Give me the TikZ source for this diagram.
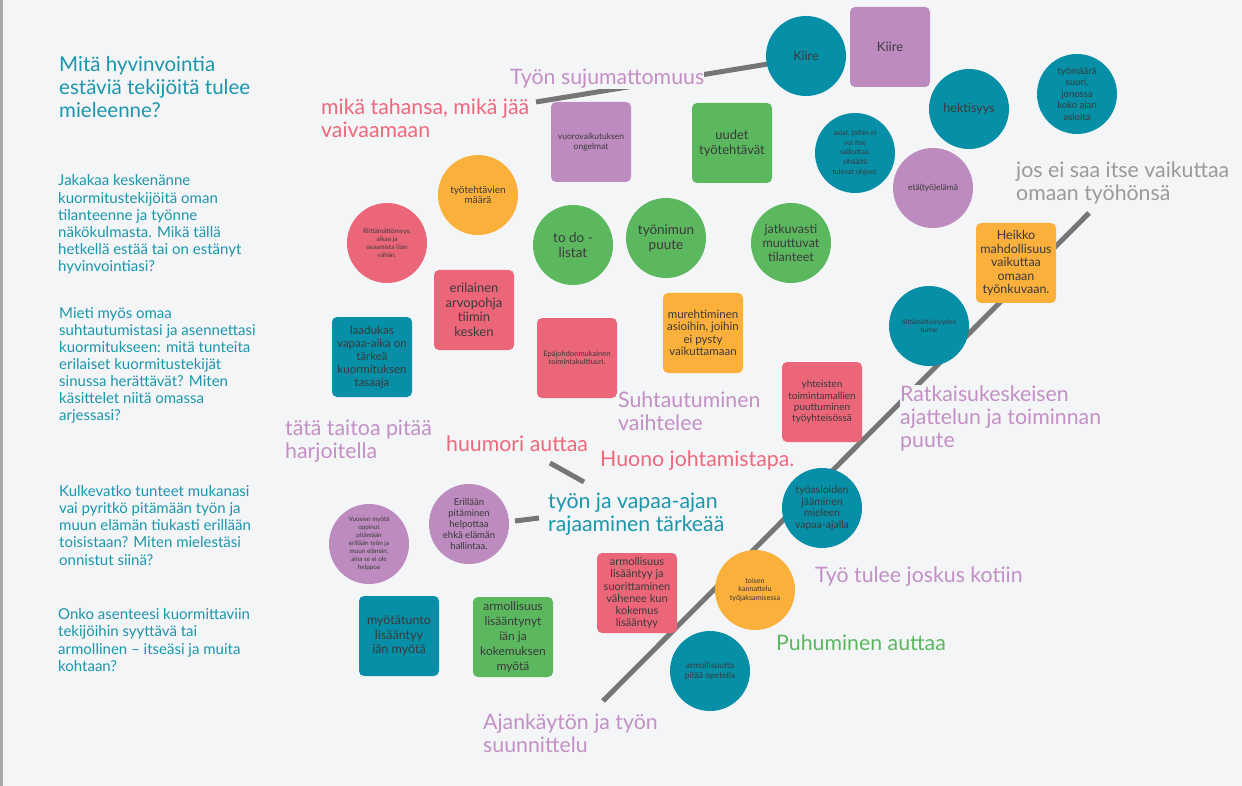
\documentclass[tikz,border=0pt]{standalone}
\usepackage{fontspec}
\setmainfont{Lato}
\definecolor{bg}{HTML}{F4F5F7}
\definecolor{teal}{HTML}{068FA7}
\definecolor{purp}{HTML}{BD8BBF}
\definecolor{grn}{HTML}{5CB85F}
\definecolor{redp}{HTML}{EC6679}
\definecolor{orng}{HTML}{FBB03B}
\definecolor{ink}{HTML}{3A3A3A}
\definecolor{qteal}{HTML}{1B96AC}
\definecolor{lpurp}{HTML}{C48FC6}
\definecolor{lpink}{HTML}{EE687C}
\definecolor{lgray}{HTML}{9A9A9A}
\definecolor{lgrn}{HTML}{5CB85F}
\definecolor{linegray}{HTML}{767676}
\definecolor{edge}{HTML}{A8A8A8}
\begin{document}
\begin{tikzpicture}[x=1pt,y=-1pt,
  fs/.style 2 args={font=\fontsize{#1}{#2}\selectfont},
  circ/.style={circle, minimum size=80pt, inner sep=-4pt, align=center, text=ink},
  sq/.style={rectangle, rounded corners=5pt, minimum size=80pt, inner sep=0pt, align=center, text=ink},
  lab/.style={anchor=base west, inner sep=0pt, fill=bg, fs={21.3}{23}},
  qtext/.style={anchor=base west, inner sep=0pt, text=qteal},
  bar/.style={line width=5pt, draw=linegray}]
\fill[bg] (0,0) rectangle (1242,786);
\useasboundingbox (0,0) rectangle (1242,786);
\fill[edge] (0,0) rectangle (2.5,786);

% connector bars
\coordinate (d1) at (603,701);
\coordinate (d2) at (1089,213);
\coordinate (s1) at (536,102);
\coordinate (s2) at (768,64);
\coordinate (h1) at (550,463);
\coordinate (h2) at (584,482);
\coordinate (r1) at (515,521);
\coordinate (r2) at (539,518);
\draw[bar] (d1) -- (d2);
\draw[bar] (s1) -- (s2);
\draw[bar] (h1) -- (h2);
\draw[bar] (r1) -- (r2);

% left column questions
\node[qtext, fs={20.5}{23}] (title) at (59,72) {\vtop{\hbox{Mitä hyvinvointia}\hbox{estäviä tekijöitä tulee}\hbox{mieleenne?}}};
\node[qtext, fs={15}{17.1}] (p1) at (58,186) {\vtop{\hbox{Jakakaa keskenänne}\hbox{kuormitustekijöitä oman}\hbox{tilanteenne ja työnne}\hbox{näkökulmasta. Mikä tällä}\hbox{hetkellä estää tai on estänyt}\hbox{hyvinvointiasi?}}};
\node[qtext, fs={15}{17.1}] (p2) at (59,318) {\vtop{\hbox{Mieti myös omaa}\hbox{suhtautumistasi ja asennettasi}\hbox{kuormitukseen: mitä tunteita}\hbox{erilaiset kuormitustekijät}\hbox{sinussa herättävät? Miten}\hbox{käsittelet niitä omassa}\hbox{arjessasi?}}};
\node[qtext, fs={15}{17.3}] (p3) at (59,496) {\vtop{\hbox{Kulkevatko tunteet mukanasi}\hbox{vai pyritkö pitämään työn ja}\hbox{muun elämän tiukasti erillään}\hbox{toisistaan? Miten mielestäsi}\hbox{onnistut siinä?}}};
\node[qtext, fs={15}{17.6}] (p4) at (58,619) {\vtop{\hbox{Onko asenteesi kuormittaviin}\hbox{tekijöihin syyttävä tai}\hbox{armollinen – itseäsi ja muita}\hbox{kohtaan?}}};

% sticky notes
\node[circ, fill=teal, fs={12.5}{14}] (c1) at (806,56) {Kiire};
\node[sq, fill=purp, fs={13}{15}] (n1) at (890,47) {Kiire};
\node[circ, fill=teal, fs={12.5}{14}] (c2) at (969,109) {hektisyys};
\node[circ, fill=teal, fs={9.5}{11.5}] (c3) at (1077,94) {työmäärä\\suuri,\\jonossa\\koko ajan\\asioita};
\node[circ, fill=teal, fs={7.2}{9.6}] (c4) at (855,153) {asiat, joihin ei\\voi itse\\vaikuttaa,\\ylhäältä\\tulevat ohjeet,};
\node[circ, fill=purp, fs={8.5}{10}] (c5) at (933,188) {etä(työ)elämä};
\node[sq, fill=grn, fs={13}{15}] (n2) at (732,143) {uudet\\työtehtävät};
\node[sq, fill=purp, fs={8.5}{9.5}] (n3) at (591,142) {vuorovaikutuksen\\ongelmat};
\node[circ, fill=grn, fs={13.5}{14.5}] (c6) at (573,245) {to do -\\listat};
\node[circ, fill=grn, fs={13.5}{15}] (c7) at (666,238) {työnimun\\puute};
\node[circ, fill=grn, fs={12.5}{14}] (c8) at (791,243) {jatkuvasti\\muuttuvat\\tilanteet};
\node[circ, fill=orng, fs={10}{10.5}] (c9) at (478,195) {työtehtävien\\määrä};
\node[circ, fill=redp, fs={6.5}{8}] (c10) at (387,243) {Riittämättömyys,\\aikaa ja\\osaamista liian\\vähän.};
\node[sq, fill=redp, fs={13}{14.5}] (n4) at (474,310) {erilainen\\arvopohja\\tiimin\\kesken};
\node[sq, fill=teal, fs={11.5}{13}] (n5) at (372,357) {laadukas\\vapaa-aika on\\tärkeä\\kuormituksen\\tasaaja};
\node[sq, fill=redp, fs={7.5}{8.5}] (n6) at (577,358) {Epäjohdonmukainen\\toimintakulttuuri.};
\node[sq, fill=orng, fs={11.5}{12.5}] (n7) at (703,333) {murehtiminen\\asioihin, joihin\\ei pysty\\vaikuttamaan};
\node[sq, fill=redp, fs={10}{11.3}] (n8) at (822,402) {yhteisten\\toimintamallien\\puuttuminen\\työyhteisössä};
\node[circ, fill=teal, fs={10.5}{11.5}] (c11) at (822,508) {työasioiden\\jääminen\\mieleen\\vapaa-ajalla};
\node[sq, fill=orng, fs={12.5}{13.5}] (n9) at (1016,263) {Heikko\\mahdollisuus\\vaikuttaa\\omaan\\työnkuvaan.};
\node[circ, fill=teal, fs={6.8}{7.5}] (c12) at (929,326) {riittämättömyyden\\tunne};
\node[circ, fill=purp, fs={6.3}{8}] (c13) at (369,544) {Vuosien myötä\\oppinut\\pitämään\\erillään työn ja\\muun elämän,\\aina se ei ole\\helppoa};
\node[circ, fill=purp, fs={9.5}{10.8}] (c14) at (469,524) {Erillään\\pitäminen\\helpottaa\\ehkä elämän\\hallintaa.};
\node[sq, fill=redp, fs={11}{12.2}] (n10) at (637,593) {armollisuus\\lisääntyy ja\\suorittaminen\\vähenee kun\\kokemus\\lisääntyy};
\node[circ, fill=orng, fs={7.2}{8.7}] (c15) at (755,590) {toisen\\kannattelu\\työjaksamisessa};
\node[circ, fill=teal, fs={8.5}{9.5}] (c16) at (710,671) {armollisuutta\\pitää opetella};
\node[sq, fill=teal, fs={12.5}{14.5}] (n11) at (399,636) {myötätunto\\lisääntyy\\iän myötä};
\node[sq, fill=grn, fs={12}{15}] (n12) at (513,637) {armollisuus\\lisääntynyt\\iän ja\\kokemuksen\\myötä};

% group labels
\node[lab, text=lpurp] (l1) at (510,85) {Työn sujumattomuus};
\node[lab, text=lpink] (l2) at (321,115) {\vtop{\hbox{mikä tahansa, mikä jää}\hbox{vaivaamaan}}};
\node[lab, text=lgray] (l3) at (1016,178) {\vtop{\hbox{jos ei saa itse vaikuttaa}\hbox{omaan työhönsä}}};
\node[lab, text=lpurp] (l4) at (900,401) {\vtop{\hbox{Ratkaisukeskeisen}\hbox{ajattelun ja toiminnan}\hbox{puute}}};
\node[lab, text=lpurp] (l5) at (618,407) {\vtop{\hbox{Suhtautuminen}\hbox{vaihtelee}}};
\node[lab, text=lpurp] (l6) at (285,435) {\vtop{\hbox{tätä taitoa pitää}\hbox{harjoitella}}};
\node[lab, text=lpink] (l7) at (446,451) {huumori auttaa};
\node[lab, text=lpink] (l8) at (600,466) {Huono johtamistapa.};
\node[lab, text=qteal] (l9) at (548,508) {\vtop{\hbox{työn ja vapaa-ajan}\hbox{rajaaminen tärkeää}}};
\node[lab, text=lpurp] (l10) at (815,582) {Työ tulee joskus kotiin};
\node[lab, text=lgrn] (l11) at (776,650) {Puhuminen auttaa};
\node[lab, text=lpurp] (l12) at (483,729) {\vtop{\hbox{Ajankäytön ja työn}\hbox{suunnittelu}}};
\end{tikzpicture}
\end{document}
